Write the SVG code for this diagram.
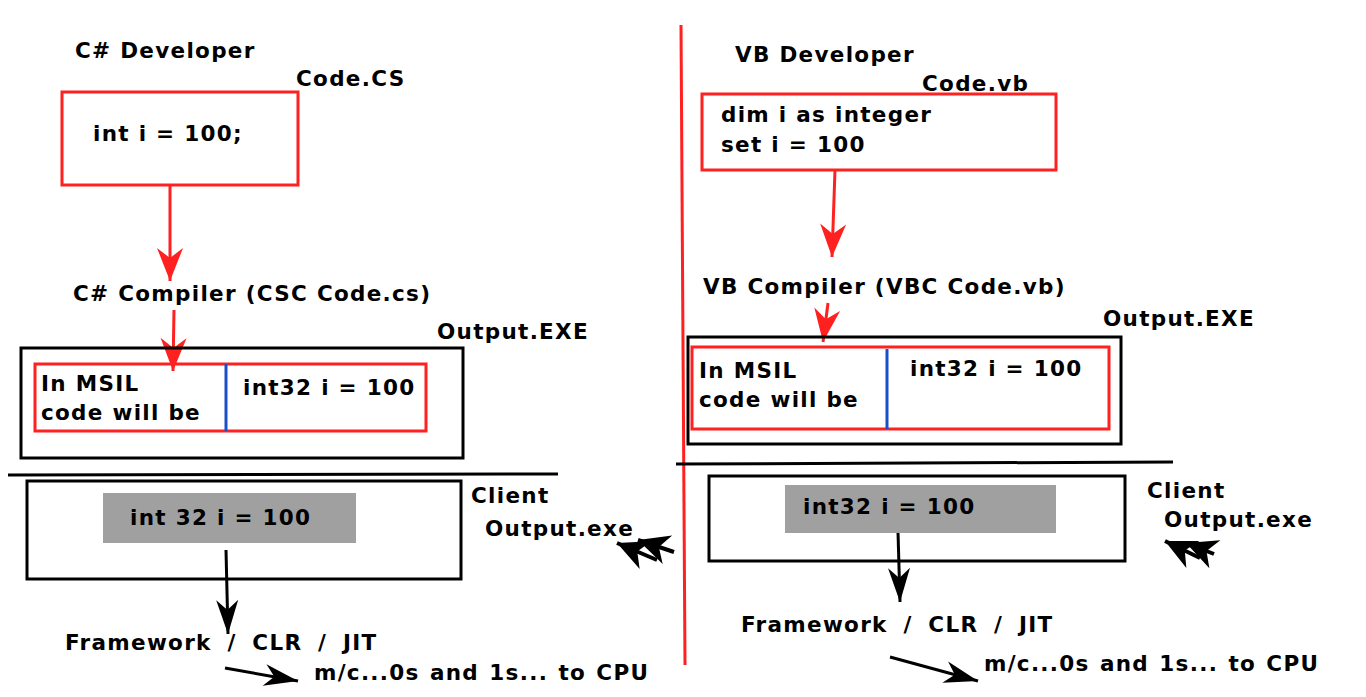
<svg xmlns="http://www.w3.org/2000/svg" width="1366" height="697" viewBox="0 0 1366 697">
<style>
text{font-family:"DejaVu Sans","Liberation Sans",sans-serif;font-weight:bold;font-size:21.5px;letter-spacing:1.3px;fill:#000}
.fw{word-spacing:7px}
.mc{word-spacing:1.5px}
.r{fill:none;stroke:#ff2020;stroke-width:3}
.k{fill:none;stroke:#000;stroke-width:3}
.b{stroke:#1a4fc9;stroke-width:3}
.g{fill:#a0a0a0}
.ar{stroke:#ff2020;stroke-width:3;fill:none;marker-end:url(#mr)}
.ak{stroke:#000;stroke-width:3;fill:none;marker-end:url(#mk)}
.af{stroke:#000;stroke-width:4;fill:none;marker-end:url(#mf)}
</style>
<defs>
<marker id="mr" markerUnits="userSpaceOnUse" markerWidth="40" markerHeight="30" refX="34" refY="15" orient="auto" overflow="visible">
<path d="M34,15 L1,2 L11,15 L1,28 Z" fill="#ff2020"/>
</marker>
<marker id="mk" markerUnits="userSpaceOnUse" markerWidth="40" markerHeight="30" refX="36" refY="15" orient="auto" overflow="visible">
<path d="M36,15 L2,4 L12,15 L2,26 Z" fill="#000"/>
</marker>
<marker id="mf" markerUnits="userSpaceOnUse" markerWidth="40" markerHeight="34" refX="34" refY="17" orient="auto" overflow="visible">
<path d="M34,17 L3,2 L12,17 L3,32 Z" fill="#000"/>
</marker>
</defs>
<rect width="1366" height="697" fill="#fff"/>

<g id="connectors">
<line x1="170" y1="185" x2="170" y2="281" class="ar"/>
<line x1="174" y1="310" x2="173" y2="371" class="ar"/>
<line x1="835" y1="170" x2="832" y2="257" class="ar"/>
<line x1="828" y1="303" x2="823" y2="342" class="ar"/>
<line x1="226" y1="550" x2="228" y2="634" class="ak"/>
<line x1="225" y1="668" x2="298" y2="681" class="ak"/>
<line x1="898" y1="532" x2="900" y2="602" class="ak"/>
<line x1="890" y1="657" x2="978" y2="681" class="ak"/>
<line x1="674" y1="552" x2="638" y2="540" class="af"/>
<line x1="657" y1="560" x2="617" y2="543" class="af"/>
<line x1="1214" y1="554" x2="1186" y2="543" class="af"/>
<line x1="1200" y1="558" x2="1165" y2="541" class="af"/>
</g>

<g id="divider">
<line x1="681" y1="25" x2="685" y2="665" stroke="#ff2020" stroke-width="3"/>
<line x1="8" y1="475" x2="558" y2="474" class="k"/>
<line x1="676" y1="464" x2="1173" y2="462" class="k"/>
</g>

<g id="cs-developer">
<text x="75" y="58">C# Developer</text>
<text x="296" y="86">Code.CS</text>
<rect x="62" y="92" width="236" height="93" class="r"/>
<text x="93" y="141">int i = 100;</text>
</g>

<g id="cs-compiler">
<text x="73" y="301">C# Compiler (CSC Code.cs)</text>
</g>

<g id="cs-output">
<text x="437" y="339">Output.EXE</text>
<rect x="21" y="348" width="442" height="110" class="k"/>
<rect x="35" y="364" width="391" height="67" class="r"/>
<line x1="226" y1="364" x2="226" y2="431" class="b"/>
<text x="41" y="391">In MSIL</text>
<text x="41" y="420">code will be</text>
<text x="243" y="395">int32 i = 100</text>
</g>

<g id="cs-client">
<rect x="27" y="481" width="434" height="98" class="k"/>
<rect x="103" y="493" width="253" height="50" class="g"/>
<text x="130" y="525">int 32 i = 100</text>
<text x="471" y="503">Client</text>
<text x="485" y="536">Output.exe</text>
</g>

<g id="cs-framework">
<text x="65" y="650" class="fw">Framework / CLR / JIT</text>
<text x="314" y="680" class="mc">m/c...0s and 1s... to CPU</text>
</g>

<g id="vb-developer">
<text x="735" y="62">VB Developer</text>
<text x="922" y="91">Code.vb</text>
<rect x="702" y="94" width="354" height="76" class="r"/>
<text x="721" y="122">dim i as integer</text>
<text x="721" y="152">set i = 100</text>
</g>

<g id="vb-compiler">
<text x="703" y="294">VB Compiler (VBC Code.vb)</text>
</g>

<g id="vb-output">
<text x="1103" y="326">Output.EXE</text>
<rect x="688" y="337" width="433" height="107" class="k"/>
<rect x="692" y="347" width="417" height="82" class="r"/>
<line x1="887" y1="349" x2="887" y2="429" class="b"/>
<text x="699" y="378">In MSIL</text>
<text x="699" y="407">code will be</text>
<text x="910" y="376">int32 i = 100</text>
</g>

<g id="vb-client">
<rect x="709" y="476" width="416" height="85" class="k"/>
<rect x="785" y="485" width="271" height="48" class="g"/>
<text x="803" y="514">int32 i = 100</text>
<text x="1147" y="498">Client</text>
<text x="1164" y="527">Output.exe</text>
</g>

<g id="vb-framework">
<text x="741" y="632" class="fw">Framework / CLR / JIT</text>
<text x="984" y="671" class="mc">m/c...0s and 1s... to CPU</text>
</g>
</svg>
